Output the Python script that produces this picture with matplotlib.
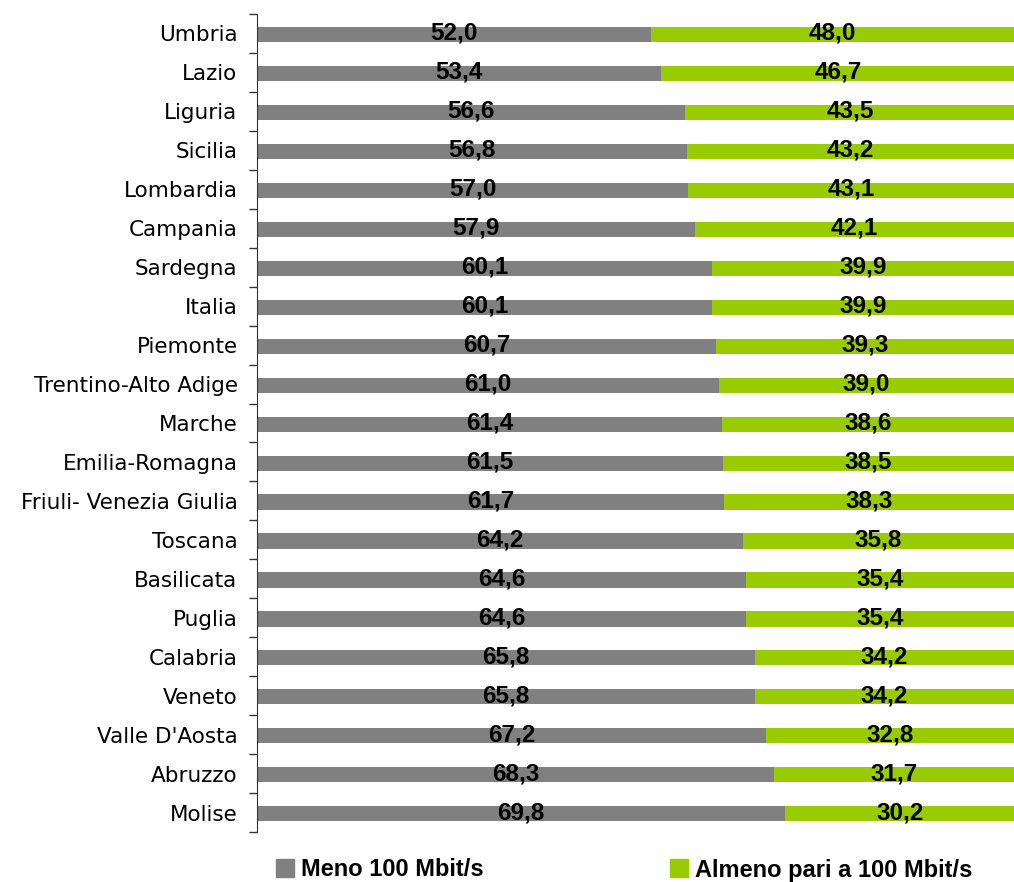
import matplotlib
matplotlib.use("Agg")
import matplotlib.pyplot as plt
import numpy as np
from matplotlib.patches import Patch

regions = ["Umbria", "Lazio", "Liguria", "Sicilia", "Lombardia", "Campania", "Sardegna",
           "Italia", "Piemonte", "Trentino-Alto Adige", "Marche", "Emilia-Romagna",
           "Friuli- Venezia Giulia", "Toscana", "Basilicata", "Puglia", "Calabria",
           "Veneto", "Valle D'Aosta", "Abruzzo", "Molise"]
meno = [52.0, 53.4, 56.6, 56.8, 57.0, 57.9, 60.1, 60.1, 60.7, 61.0, 61.4, 61.5,
        61.7, 64.2, 64.6, 64.6, 65.8, 65.8, 67.2, 68.3, 69.8]
almeno = [48.0, 46.7, 43.5, 43.2, 43.1, 42.1, 39.9, 39.9, 39.3, 39.0, 38.6, 38.5,
          38.3, 35.8, 35.4, 35.4, 34.2, 34.2, 32.8, 31.7, 30.2]
series_names = ["Meno 100 Mbit/s", "Almeno pari a 100 Mbit/s"]

GRAY = "#808080"
GREEN = "#99CC00"
num_font = ["Liberation Sans", "DejaVu Sans"]
lab_font = ["DejaVu Sans"]

fig = plt.figure(figsize=(10.14, 8.82), dpi=100)
ax = fig.add_axes([257/1014, 1 - 832/882, 1 - 257/1014, (832 - 14)/882])

y = np.arange(len(regions))
ax.barh(y + 0.03, meno, height=0.39, color=GRAY, label=series_names[0])
ax.barh(y + 0.03, almeno, left=meno, height=0.39, color=GREEN, label=series_names[1])

for i, (a, b) in enumerate(zip(meno, almeno)):
    ax.text(a / 2, i, f"{a:.1f}".replace(".", ","), ha="center", va="center",
            fontsize=17.5, fontweight="bold", family=num_font)
    ax.text(a + b / 2, i, f"{b:.1f}".replace(".", ","), ha="center", va="center",
            fontsize=17.5, fontweight="bold", family=num_font)

ax.set_xlim(0, 100)
ax.set_ylim(len(regions) - 0.5, -0.5)
ax.set_yticks(y)
ax.set_yticklabels(regions, family=lab_font, fontsize=15.5)
ax.tick_params(axis="y", which="major", length=0, pad=14)
ax.set_yticks(np.arange(-0.5, len(regions), 1), minor=True)
ax.tick_params(axis="y", which="minor", length=6, width=1, color="#333333", direction="out")
ax.set_xticks([])
for s in ["top", "right", "bottom"]:
    ax.spines[s].set_visible(False)
ax.spines["left"].set_color("#333333")

handles = [Patch(color=GRAY), Patch(color=GREEN)]
leg = fig.legend(handles, series_names, loc="center", bbox_to_anchor=(0.6154, 1 - 870/882),
                 ncol=2, frameon=False, handlelength=0.75, handleheight=0.8,
                 handletextpad=0.3, columnspacing=7.9,
                 prop={"family": num_font, "weight": "bold", "size": 17})

fig.savefig("out.png", dpi=100)
